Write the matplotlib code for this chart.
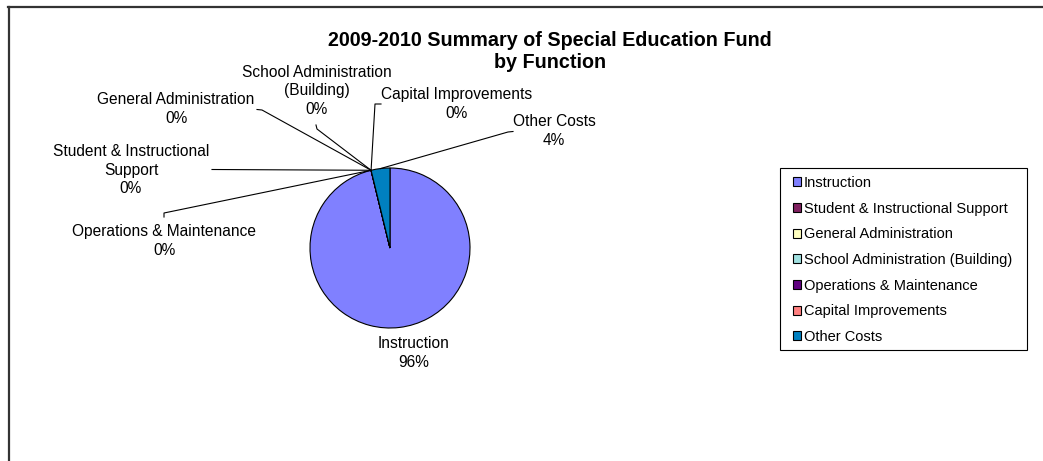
import matplotlib.pyplot as plt
import numpy as np
from matplotlib.lines import Line2D
from matplotlib.patches import Rectangle

W, H = 1043, 461

categories = [
    "Instruction",
    "Student & Instructional Support",
    "General Administration",
    "School Administration (Building)",
    "Operations & Maintenance",
    "Capital Improvements",
    "Other Costs",
]
shares = [96.2, 0.0, 0.0, 0.0, 0.0, 0.0, 3.8]
colors = ["#8080FF", "#802060", "#FFFFC0", "#A0E0E0", "#600080", "#FF8080", "#0080C0"]
label_names = [
    "Instruction",
    "Student & Instructional\nSupport",
    "General Administration",
    "School Administration\n(Building)",
    "Operations & Maintenance",
    "Capital Improvements",
    "Other Costs",
]

# label block centres and leader elbows, in pixels from the top-left corner
label_xy = [(414, 353), (131, 170), (176, 109), (317, 91), (164, 241), (457, 104), (554, 131)]
leader_pts = [
    None,
    [(212, 169.5)],
    [(257, 109.5), (262, 110)],
    [(316, 125), (317, 129)],
    [(164, 217), (164, 213)],
    [(381, 104), (375, 104)],
    [(513, 131.5), (508, 132)],
]


def px(x, y):
    return x, H - y


plt.rcParams["font.family"] = ["Liberation Sans", "DejaVu Sans"]

fig = plt.figure(figsize=(W / 100, H / 100), dpi=100)
ax = fig.add_axes([0, 0, 1, 1])

cx, cy = px(390, 248)
radius = 80
wedges, _ = ax.pie(
    shares,
    colors=colors,
    startangle=90,
    counterclock=False,
    center=(cx, cy),
    radius=radius,
    wedgeprops=dict(edgecolor="black", linewidth=0.8),
)
ax.set_xlim(0, W)
ax.set_ylim(0, H)
ax.set_aspect("equal")
ax.axis("off")

total = sum(shares)
for i, (wedge, name) in enumerate(zip(wedges, label_names)):
    pct = f"{shares[i] / total * 100:.0f}%"
    tx, ty = px(*label_xy[i])
    ax.text(tx, ty, f"{name}\n{pct}", ha="center", va="center",
            fontsize=11.2, linespacing=1.28, color="black")
    if leader_pts[i] is None:
        continue
    mid = np.deg2rad((wedge.theta1 + wedge.theta2) / 2)
    ax_x = cx + radius * np.cos(mid)
    ax_y = cy + radius * np.sin(mid)
    pts = [px(*p) for p in leader_pts[i]] + [(ax_x, ax_y)]
    xs, ys = zip(*pts)
    ax.plot(xs, ys, color="black", linewidth=0.8)

tx, ty = px(550, 52)
ax.text(tx, ty, "2009-2010 Summary of Special Education Fund\nby Function",
        ha="center", va="center", fontsize=14.2, fontweight="bold", linespacing=1.2)

# chart area border (runs off the right and bottom edges)
fig.add_artist(Line2D([8.5 / W, 8.5 / W], [0, 1 - 7 / H], transform=fig.transFigure,
                      color="#333333", linewidth=1.6))
fig.add_artist(Line2D([8 / W, 1], [1 - 7.5 / H, 1 - 7.5 / H], transform=fig.transFigure,
                      color="#333333", linewidth=1.6))

# legend box drawn separately so its padding can be uneven
ax.add_patch(Rectangle(px(780, 350), 247, 182, facecolor="white",
                       edgecolor="black", linewidth=0.8, zorder=1))
leg = fig.legend(
    wedges, categories,
    loc="upper left", bbox_to_anchor=(785 / W, 1 - 168 / H),
    fontsize=10.5, frameon=False,
    handlelength=0.55, handleheight=0.55,
    handletextpad=0.2, labelspacing=0.8, borderpad=0.55, borderaxespad=0,
)

fig.savefig("out.png", dpi=100)
